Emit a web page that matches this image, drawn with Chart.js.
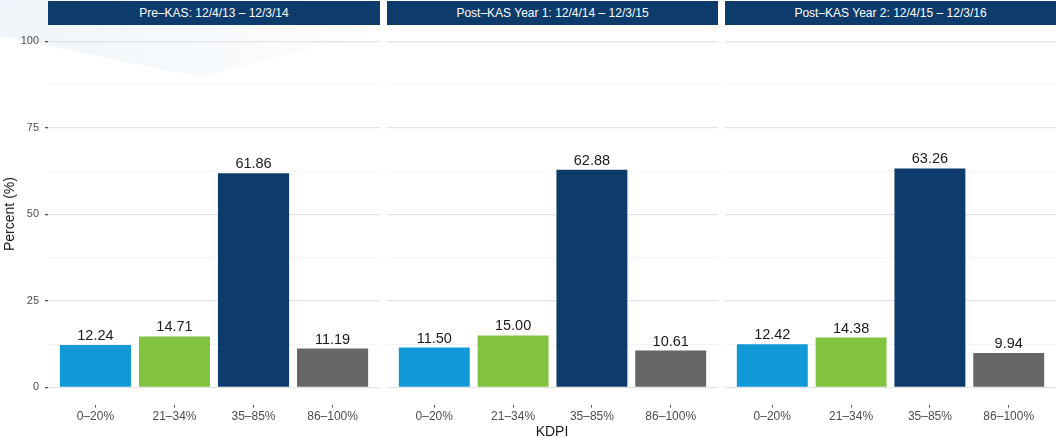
<!DOCTYPE html>
<html>
<head>
<meta charset="utf-8">
<script src="https://cdn.jsdelivr.net/npm/chart.js@4"></script>
<style>
  html, body { margin: 0; padding: 0; background: #ffffff; }
  body { width: 1056px; height: 438px; position: relative; overflow: hidden; font-family: "Liberation Sans", Arial, sans-serif; }
  .swoosh { position: absolute; left: 0; top: 0; width: 420px; height: 90px;
    background: linear-gradient(100deg, rgba(228,238,246,0.6) 0%, rgba(238,244,249,0.45) 50%, rgba(255,255,255,0) 100%);
    clip-path: polygon(0 0, 100% 0, 100% 22%, 48% 86%, 0 40%); }
  .strip { position: absolute; top: 1px; height: 24px; line-height: 24px; background: #0c3b6c; color: #ffffff;
    font-size: 12px; text-align: center; white-space: nowrap; }
  .panel { position: absolute; top: 24px; height: 414px; }
  .ytitle { position: absolute; left: 9px; top: 214px; font-size: 14px; color: #1a1a1a; white-space: nowrap;
    transform: translate(-50%, -50%) rotate(-90deg); line-height: 16px; }
  .xtitle { position: absolute; left: 552px; top: 423px; font-size: 14px; color: #1a1a1a; white-space: nowrap;
    transform: translateX(-50%); line-height: 16px; }
</style>
</head>
<body>
<div class="swoosh"></div>
<div id="strips"></div>
<div class="panel" style="left:0px;width:380px"><canvas id="c0" width="380" height="414"></canvas></div>
<div class="panel" style="left:387px;width:331px"><canvas id="c1" width="331" height="414"></canvas></div>
<div class="panel" style="left:725px;width:331px"><canvas id="c2" width="331" height="414"></canvas></div>
<div class="ytitle">Percent (%)</div>
<div class="xtitle">KDPI</div>
<script>
// ---- data ----
const categories = ['0–20%', '21–34%', '35–85%', '86–100%'];
const panelTitles = ['Pre–KAS: 12/4/13 – 12/3/14', 'Post–KAS Year 1: 12/4/14 – 12/3/15', 'Post–KAS Year 2: 12/4/15 – 12/3/16'];
const preKAS = [12.24, 14.71, 61.86, 11.19];
const postKASYear1 = [11.50, 15.00, 62.88, 10.61];
const postKASYear2 = [12.42, 14.38, 63.26, 9.94];
const yTicks = [0, 25, 50, 75, 100];
const barColors = ['#1199d7', '#82c341', '#0c3b6c', '#666666'];

const seriesList = [preKAS, postKASYear1, postKASYear2];
const stripGeom = [[48, 332], [387, 331], [725, 331]];

const stripHost = document.getElementById('strips');
panelTitles.forEach((t, i) => {
  const d = document.createElement('div');
  d.className = 'strip';
  d.style.left = stripGeom[i][0] + 'px';
  d.style.width = stripGeom[i][1] + 'px';
  d.textContent = t;
  stripHost.appendChild(d);
});

const gridValues = [];
yTicks.forEach((v, i) => {
  gridValues.push(v);
  if (i < yTicks.length - 1) gridValues.push((v + yTicks[i + 1]) / 2);
});

const valueLabels = {
  id: 'valueLabels',
  afterDatasetsDraw(chart) {
    const ctx = chart.ctx;
    const meta = chart.getDatasetMeta(0);
    const ds = chart.data.datasets[0];
    ctx.save();
    ctx.font = '14.5px "Liberation Sans", Arial, sans-serif';
    ctx.fillStyle = '#1a1a1a';
    ctx.textAlign = 'center';
    ctx.textBaseline = 'alphabetic';
    meta.data.forEach((bar, i) => {
      ctx.fillText(ds.data[i].y.toFixed(2), bar.x, bar.y - 5);
    });
    ctx.restore();
  }
};

function makeChart(canvasId, values, showY) {
  const isMajor = (v) => yTicks.includes(v);
  new Chart(document.getElementById(canvasId), {
    type: 'bar',
    data: {
      datasets: [{
        data: values.map((v, i) => ({ x: i + 1, y: v })),
        backgroundColor: barColors,
        borderWidth: 0,
        barPercentage: 0.9,
        categoryPercentage: 1.0
      }]
    },
    options: {
      responsive: false,
      animation: false,
      devicePixelRatio: 1,
      layout: { padding: 0 },
      plugins: { legend: { display: false }, tooltip: { enabled: false }, title: { display: false } },
      scales: {
        x: {
          type: 'linear',
          min: 0.4,
          max: 4.6,
          offset: false,
          afterBuildTicks: (s) => { s.ticks = categories.map((c, i) => ({ value: i + 1 })); },
          afterFit: (s) => { s.height = 33.4; s.paddingLeft = 0; s.paddingRight = 0; },
          border: { display: false },
          grid: { offset: false, drawOnChartArea: false, drawTicks: true, tickLength: 3, tickColor: '#555555', lineWidth: 1 },
          ticks: {
            padding: 2,
            color: '#4d4d4d',
            font: { family: '"Liberation Sans", Arial, sans-serif', size: 12 },
            maxRotation: 0,
            autoSkip: false,
            callback: (v) => categories[Math.round(v) - 1] || ''
          }
        },
        y: {
          type: 'linear',
          min: -5,
          max: 105,
          afterBuildTicks: (s) => { s.ticks = gridValues.map(v => ({ value: v })); },
          afterFit: (s) => { s.width = showY ? 48 : 0; s.paddingTop = 0; s.paddingBottom = 0; },
          border: { display: false },
          grid: {
            drawTicks: showY,
            tickLength: 3,
            color: (c) => (c.tick && isMajor(c.tick.value)) ? '#e4e4e4' : '#f3f3f3',
            lineWidth: (c) => (c.tick && isMajor(c.tick.value)) ? 1.3 : 1,
            tickColor: (c) => (c.tick && isMajor(c.tick.value)) ? '#555555' : 'rgba(0,0,0,0)'
          },
          ticks: {
            display: showY,
            padding: 6,
            color: '#4d4d4d',
            font: { family: '"Liberation Sans", Arial, sans-serif', size: 11 },
            autoSkip: false,
            callback: (v) => isMajor(v) ? String(v) : ''
          }
        }
      }
    },
    plugins: [valueLabels]
  });
}

seriesList.forEach((vals, i) => makeChart('c' + i, vals, i === 0));
</script>
</body>
</html>
